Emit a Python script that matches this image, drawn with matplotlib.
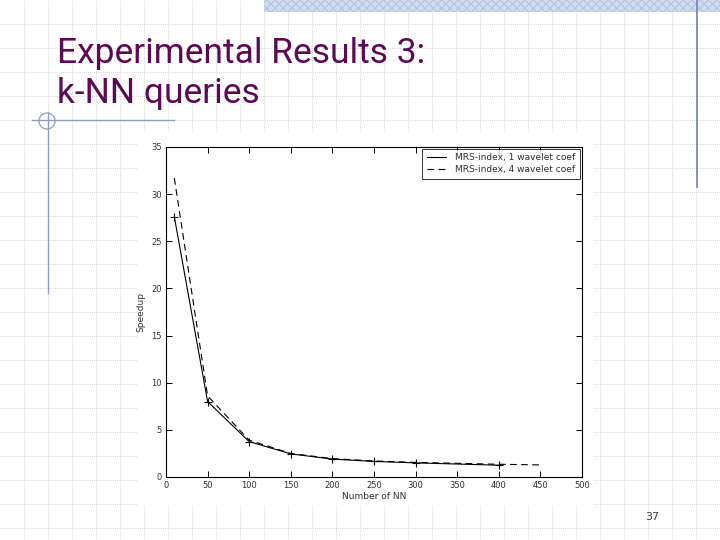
import matplotlib
matplotlib.use("Agg")
import matplotlib.pyplot as plt
from matplotlib.patches import Rectangle, Circle

# slide text
title_lines = ["Experimental Results 3:", "k-NN queries"]
page_no = "37"

# chart data
k_solid = [10, 50, 100, 150, 200, 250, 300, 400]
speedup_solid = [27.6, 8.0, 3.75, 2.45, 1.9, 1.65, 1.5, 1.25]
k_dashed = [10, 50, 100, 150, 200, 250, 300, 350, 400, 450]
speedup_dashed = [31.7, 8.6, 3.9, 2.5, 1.95, 1.7, 1.55, 1.45, 1.35, 1.28]
label_solid = "MRS-index, 1 wavelet coef"
label_dashed = "MRS-index, 4 wavelet coef"
x_ticks = [0, 50, 100, 150, 200, 250, 300, 350, 400, 450, 500]
y_ticks = [0, 5, 10, 15, 20, 25, 30, 35]

W, H = 720, 540
fig = plt.figure(figsize=(7.2, 5.4), dpi=100)

# background layer in pixel coordinates
bg = fig.add_axes([0, 0, 1, 1])
bg.set_xlim(0, W)
bg.set_ylim(H, 0)
bg.axis("off")

# dotted slide grid
for gx in range(24, W, 24):
    bg.axvline(gx, color="#c8c8c8", lw=0.6, ls=(0, (1, 1.5)), zorder=0)
for gy in range(24, H, 24):
    bg.axhline(gy, color="#c8c8c8", lw=0.6, ls=(0, (1, 1.5)), zorder=0)

# hatched band at the top
bg.add_patch(Rectangle((264, 0), W - 264, 12, facecolor="#d3dcef",
                       edgecolor="#b8c6e6", hatch="xxxx", lw=0, zorder=1))

# decorative lines
bg.plot([697, 697], [0, 187], color="#7f8ab0", lw=1.3, zorder=2)
bg.plot([48, 48], [112, 293], color="#8f9cc0", lw=1.0, zorder=2)
bg.plot([32, 174], [120, 120], color="#8f9cc0", lw=1.0, zorder=2)
bg.add_patch(Circle((47, 121), 8, fill=False, edgecolor="#8f9cc0", lw=0.9, zorder=2))

# white area of the pasted chart image
bg.add_patch(Rectangle((138, 133), 455, 372, facecolor="white", lw=0, zorder=3))

title_font = ["Roboto", "DejaVu Sans"]
bg.text(57, 63, title_lines[0], color="#5c0a55", fontsize=25.5,
        family=title_font, va="baseline", ha="left", zorder=4)
bg.text(57, 103, title_lines[1], color="#5c0a55", fontsize=25.5,
        family=title_font, va="baseline", ha="left", zorder=4)
bg.text(652, 517, page_no, color="#404040", fontsize=8, ha="center", va="center", zorder=4)

# the chart
ax = fig.add_axes([166 / W, 1 - 477 / H, (582 - 166) / W, (477 - 147) / H])
ax.plot(k_solid, speedup_solid, "-", color="black", lw=0.8, label=label_solid)
ax.plot(k_dashed, speedup_dashed, "--", color="black", lw=0.8, dashes=(6, 4),
        label=label_dashed)
ax.plot(k_solid, speedup_solid, "+", color="black", ms=6, mew=0.8)
ax.set_xlim(0, 500)
ax.set_ylim(0, 35)
ax.set_xticks(x_ticks)
ax.set_yticks(y_ticks)
ax.tick_params(direction="in", length=4, width=0.7, top=True, right=True,
               labelsize=6, labelcolor="#303030", pad=3)
for s in ax.spines.values():
    s.set_linewidth(0.8)
ax.set_xlabel("Number of NN", fontsize=6.5, color="#303030", labelpad=1)
ax.set_ylabel("Speedup", fontsize=6.5, color="#303030", labelpad=4)
leg = ax.legend(loc="upper right", fontsize=6.5, frameon=True, fancybox=False,
                edgecolor="black", borderaxespad=0.2, handlelength=2.2,
                borderpad=0.5, labelspacing=0.3, handletextpad=1.0)
leg.get_frame().set_linewidth(0.7)
for t in leg.get_texts():
    t.set_color("#303030")

fig.savefig("out.png", dpi=100)
